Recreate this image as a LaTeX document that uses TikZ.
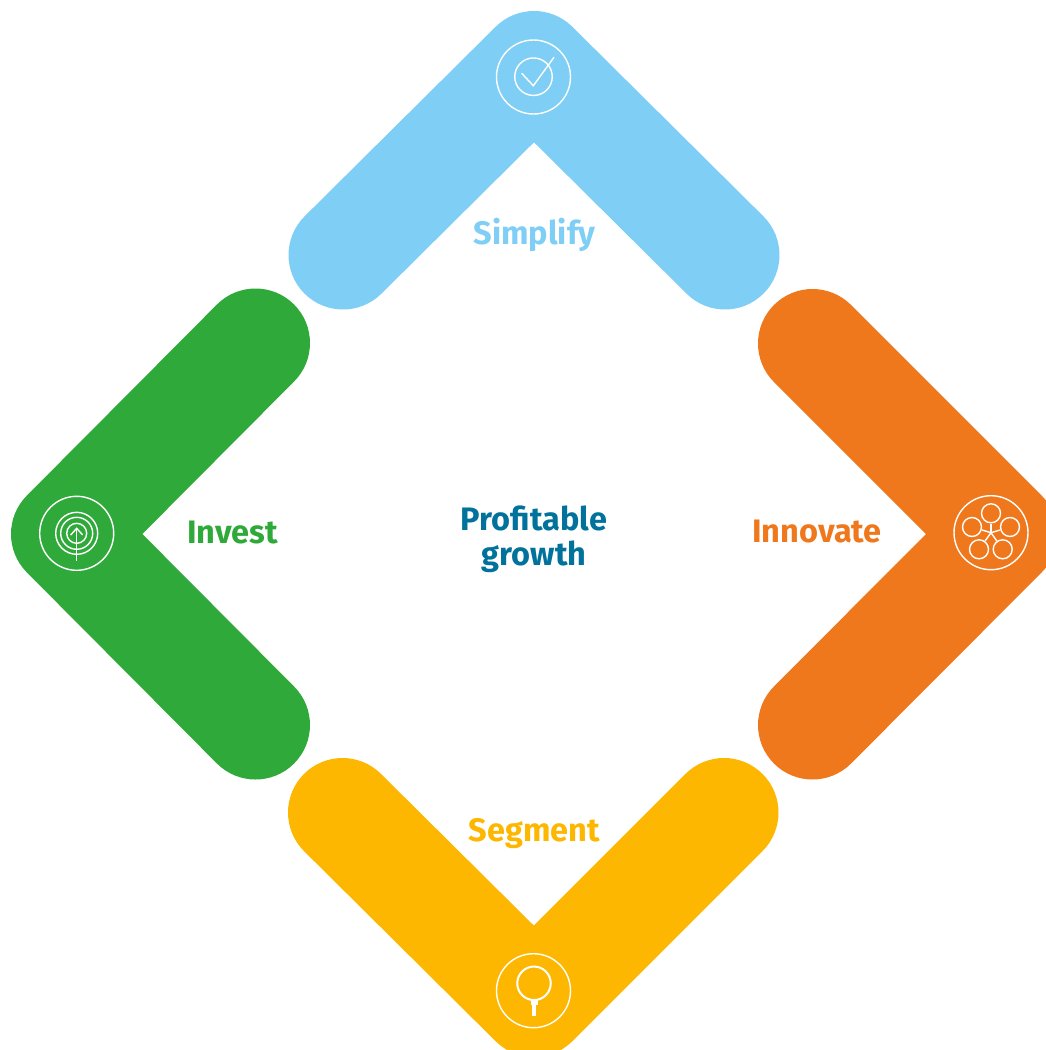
\documentclass[tikz,border=0pt]{standalone}
\usepackage{xcolor}
\usepackage{fontspec}
\setmainfont{Fira Sans}
\usepackage{tikz}
\usetikzlibrary{positioning}
\definecolor{simplifyblue}{HTML}{7FCEF5}
\definecolor{investgreen}{HTML}{2FAA3A}
\definecolor{innovateorange}{HTML}{F0781C}
\definecolor{segmentyellow}{HTML}{FDB700}
\definecolor{growthteal}{HTML}{00729B}
\tikzset{
  band/.style={line width=109pt,line cap=round,line join=round},
  label/.style={font=\fontsize{32.5}{35}\selectfont\bfseries,align=center,inner sep=0pt},
  badge/.style={draw=white,circle,line width=1.4pt,minimum size=74pt,inner sep=0pt},
  thin/.style={draw=white,line width=1.4pt},
  petal/.style={draw=white,circle,line width=1.4pt,minimum size=19pt,inner sep=0pt}
}
\begin{document}
\begin{tikzpicture}[x=1pt,y=-1pt]
    \clip (0,0) rectangle (1046,1050);
    % the four bands
    \draw[band,simplifyblue] (343,255) -- (534,65.5) -- (725,255);
    \draw[band,innovateorange] (812.5,343.5) -- (1003,534) -- (812.5,725);
    \draw[band,segmentyellow] (342.5,812.5) -- (534,1002.5) -- (724,812.5);
    \draw[band,investgreen] (255.5,343) -- (65.5,534) -- (255.5,725);
    % labels
    \node[label,simplifyblue] (Simplify) at (534.5,235) {Simplify};
    \node[label,investgreen] (Invest) at (232.5,532.5) {Invest};
    \node[label,innovateorange] (Innovate) at (817,532) {Innovate};
    \node[label,segmentyellow] (Segment) at (534.5,834) {Segment};
    \node[label,growthteal] (Growth) at (534,539) {Profitable\\growth};
    % tick icon
    \node[badge] (TickBadge) at (533.5,77) {};
    \node[thin,circle,minimum size=37.5pt,inner sep=0pt] (TickRing) at (533.5,76.7) {};
    \draw[thin] (521.7,73.3) -- (533.3,85.7) -- (554,57.3);
    % network icon
    \node[badge] (NetBadge) at (991,532.7) {};
    \coordinate (Hub) at (991,532.7);
    \node[petal] (PetalTop) at (991,513.3) {};
    \node[petal] (PetalLeft) at (972,527) {};
    \node[petal] (PetalRight) at (1010,527) {};
    \node[petal] (PetalLow) at (979,549.3) {};
    \node[petal] (PetalHigh) at (1002.7,549.3) {};
    \foreach \p in {PetalTop,PetalLeft,PetalRight,PetalLow,PetalHigh}
      \draw[thin] (Hub) -- (\p);
    % lens icon
    \node[badge] (LensBadge) at (533.5,990.7) {};
    \node[draw=white,circle,line width=2pt,minimum size=33.5pt,inner sep=0pt] (Lens) at (534,983.3) {};
    \fill[white] (530.5,999.5) rectangle (537.5,1005);
    \fill[white] (532.2,1005) rectangle (535.8,1016);
    % tree icon
    \node[badge] (TreeBadge) at (76.7,533.3) {};
    \node[thin,circle,minimum size=42pt,inner sep=0pt] (TreeOuter) at (76.7,533.3) {};
    \node[thin,circle,minimum size=32pt,inner sep=0pt] (TreeMiddle) at (76.7,533.3) {};
    \node[thin,circle,minimum size=20pt,inner sep=0pt] (TreeInner) at (76.7,533.3) {};
    \draw[thin] (76.7,560.7) -- (76.7,528.3);
    \draw[thin] (70.7,535) -- (76.7,528.3) -- (82.7,535);
\end{tikzpicture}
\end{document}
